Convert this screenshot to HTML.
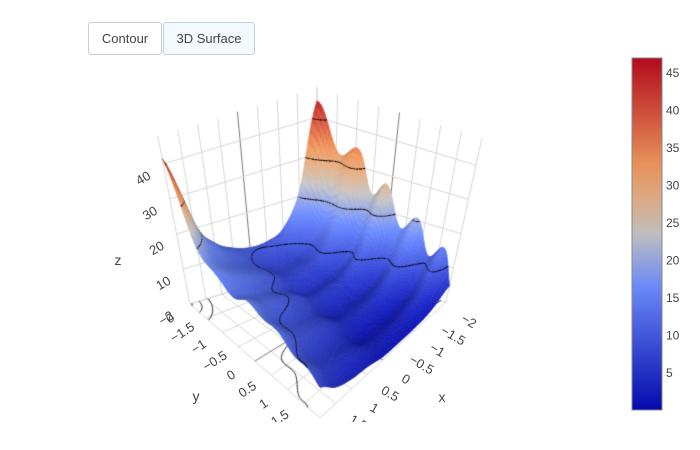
<!DOCTYPE html>
<html><head><meta charset="utf-8">
<style>
html,body{margin:0;padding:0;background:#fff;}
#root{position:relative;width:700px;height:450px;overflow:hidden;font-family:"Liberation Sans",sans-serif;}
#scene{position:absolute;left:0;top:0;width:700px;height:422px;overflow:hidden;}
#cv{position:absolute;left:0;top:0;}
#ov{position:absolute;left:0;top:0;}
.btn{position:absolute;top:22px;height:31px;border:1px solid #c4cfdc;border-radius:3px;font-size:13px;color:#444;line-height:31px;text-align:center;box-sizing:content-box;}
</style></head><body>
<div id="root">
  <div class="btn" style="left:88px;width:72px;background:#fff;">Contour</div>
  <div class="btn" style="left:163px;width:90px;background:#f4f9fe;">3D Surface</div>
  <div id="scene">
    <canvas id="cv" width="700" height="422"></canvas>
    <svg id="ov" width="700" height="422"></svg>
  </div>
  <svg width="700" height="450" style="position:absolute;left:0;top:0;pointer-events:none">
    <defs><linearGradient id="cg" x1="0" y1="1" x2="0" y2="0">
      <stop offset="0" stop-color="rgb(5,10,172)"/><stop offset="0.35" stop-color="rgb(106,137,247)"/>
      <stop offset="0.5" stop-color="rgb(190,190,190)"/><stop offset="0.6" stop-color="rgb(220,170,132)"/>
      <stop offset="0.7" stop-color="rgb(230,145,90)"/><stop offset="1" stop-color="rgb(178,10,28)"/>
    </linearGradient></defs>
    <rect x="632" y="58" width="30" height="352" fill="url(#cg)" stroke="#888" stroke-width="1"/>
    <g id="cbt" font-size="12" fill="#444" font-family="Liberation Sans, sans-serif"></g>
  </svg>
</div>
<script>
// ---- data ----
const xs=[-2,-1.5,-1,-0.5,0,0.5,1,1.5,2];
const ys=[-2,-1.5,-1,-0.5,0,0.5,1,1.5,2];
const zRowYm20=[41,19.5,11.5,9.6,9.5,11,14,21,41];
const zRowYm15=[36,17.2,10.2,8.6,8.5,11,13,16,22];
const zRowYm10=[32,14.9,8.6,7.1,7,10,12,14,16];
const zRowYm05=[27,12.6,7.3,6.1,6,9,11,12.5,14];
const zRowY00=[23,10.7,6.1,5.1,5,8,10,11.5,15];
const zRowY05=[19,8.7,4.9,4.1,4,7,8.5,10,14];
const zRowY10=[16,7.1,3.8,3.05,3,5.5,7,8.5,12];
const zRowY15=[13,5.5,2.7,2.04,2,4,5,6.5,10];
const zRowY20=[7,3.2,1.8,1.5,1.5,2.5,3,4.5,8];
const zGrid=[zRowYm20,zRowYm15,zRowYm10,zRowYm05,zRowY00,zRowY05,zRowY10,zRowY15,zRowY20];
const rippleCrests=[-1.95,-0.9,-0.12,0.8,1.68];
const rippleAmp=[3.5,2,1.2,0.9,0.8,0.6,0.5,0.5,0.6];
const contourLevels=[10,20,30,40];
const xTicks=[-2,-1.5,-1,-0.5,0,0.5,1,1.5,2];
const yTicks=[-2,-1.5,-1,-0.5,0,0.5,1,1.5,2];
const zTicks=[0,10,20,30,40];
const cbTicks=[5,10,15,20,25,30,35,40,45];
const cmin=0, cmax=47, zTop=48;

// ---- projection ----
const PB=[317,265],UB=[0,-3.7],PL=[190,304],UL=[-0.67,-3.5],PR=[446,302],UR=[0.75,-3.42],PF=[320,418],UF=[0,-4.0];
function proj(x,y,z){
  const u=(x+2)/4,v=(y+2)/4;
  const a=(1-u)*(1-v),b=u*(1-v),c=(1-u)*v,d=u*v;
  const px=a*PB[0]+b*PL[0]+c*PR[0]+d*PF[0];
  const py=a*PB[1]+b*PL[1]+c*PR[1]+d*PF[1];
  const ux=a*UB[0]+b*UL[0]+c*UR[0]+d*UF[0];
  const uy=a*UB[1]+b*UL[1]+c*UR[1]+d*UF[1];
  return [px+z*ux,py+z*uy];
}
function cr(p0,p1,p2,p3,t){return 0.5*((2*p1)+(-p0+p2)*t+(2*p0-5*p1+4*p2-p3)*t*t+(-p0+3*p1-3*p2+p3)*t*t*t);}
function interpArr(arr,f){
  const n=arr.length;let i=Math.floor(f);if(i>n-2)i=n-2;if(i<0)i=0;const t=f-i;
  const g=k=>arr[Math.max(0,Math.min(n-1,k))];
  return cr(g(i-1),g(i),g(i+1),g(i+2),t);
}
function lin(arr,f){const n=arr.length;let i=Math.floor(f);if(i>n-2)i=n-2;if(i<0)i=0;const t=f-i;return arr[i]*(1-t)+arr[i+1]*t;}
function ripple(y){
  const c=rippleCrests,n=c.length;let u;
  if(y<c[0])u=(y-c[0])/(c[1]-c[0]);
  else if(y>=c[n-1])u=(y-c[n-1])/(c[n-1]-c[n-2]);
  else{for(let i=0;i<n-1;i++){if(y>=c[i]&&y<c[i+1]){u=(y-c[i])/(c[i+1]-c[i]);break;}}}
  return Math.cos(2*Math.PI*u);
}
function zAt(x,y){
  const fx=(x-xs[0])/(xs[1]-xs[0]),fy=(y-ys[0])/(ys[1]-ys[0]);
  const n=zGrid.length;let j=Math.floor(fy);if(j>n-2)j=n-2;if(j<0)j=0;const t=fy-j;
  const row=k=>interpArr(zGrid[Math.max(0,Math.min(n-1,k))],fx);
  const base=cr(row(j-1),row(j),row(j+1),row(j+2),t);
  return Math.max(0,base+lin(rippleAmp,fx)*ripple(y));
}
const stops=[[0,[5,10,172]],[0.35,[106,137,247]],[0.5,[190,190,190]],[0.6,[220,170,132]],[0.7,[230,145,90]],[1,[178,10,28]]];
function cmap(z){
  let t=(z-cmin)/(cmax-cmin);t=Math.max(0,Math.min(1,t));
  for(let i=0;i<stops.length-1;i++){const a=stops[i],b=stops[i+1];if(t<=b[0]){const f=(t-a[0])/(b[0]-a[0]);return [0,1,2].map(k=>a[1][k]+(b[1][k]-a[1][k])*f);}}
  return stops[stops.length-1][1];
}

// ---- draw ----
const cv=document.getElementById('cv'),ctx=cv.getContext('2d');
function line3(a,b,col,w){const p=proj(...a),q=proj(...b);ctx.strokeStyle=col;ctx.lineWidth=w;ctx.beginPath();ctx.moveTo(p[0],p[1]);ctx.lineTo(q[0],q[1]);ctx.stroke();}
const gridCol='rgb(214,214,214)',zeroCol='rgb(120,120,120)';
xTicks.forEach(x=>line3([x,-2,0],[x,2,0],x===0?zeroCol:gridCol,1));
yTicks.forEach(y=>line3([-2,y,0],[2,y,0],y===0?zeroCol:gridCol,1));
xTicks.forEach(x=>line3([x,-2,0],[x,-2,zTop],x===0?zeroCol:gridCol,1));
zTicks.forEach(z=>line3([-2,-2,z],[2,-2,z],gridCol,1));
yTicks.forEach(y=>line3([-2,y,0],[-2,y,zTop],y===0?zeroCol:gridCol,1));
zTicks.forEach(z=>line3([-2,-2,z],[-2,2,z],gridCol,1));

const N=80;
const V=[];
for(let i=0;i<=N;i++){V[i]=[];for(let j=0;j<=N;j++){const x=-2+4*i/N,y=-2+4*j/N;V[i][j]=[x,y,zAt(x,y)];}}
function cellContours(i,j,floor){
  const c=[V[i][j],V[i+1][j],V[i+1][j+1],V[i][j+1]];
  contourLevels.forEach(L=>{
    const pts=[];
    for(let k=0;k<4;k++){const a=c[k],b=c[(k+1)%4];
      if((a[2]-L)*(b[2]-L)<0){const t=(L-a[2])/(b[2]-a[2]);pts.push(proj(a[0]+(b[0]-a[0])*t,a[1]+(b[1]-a[1])*t,floor?0:L));}}
    if(pts.length>=2){ctx.beginPath();ctx.moveTo(pts[0][0],pts[0][1]);ctx.lineTo(pts[1][0],pts[1][1]);
      if(pts.length===4){ctx.moveTo(pts[2][0],pts[2][1]);ctx.lineTo(pts[3][0],pts[3][1]);}ctx.stroke();}
  });
}
ctx.strokeStyle='#111';ctx.lineWidth=0.9;
for(let i=0;i<N;i++)for(let j=0;j<N;j++)cellContours(i,j,true);
const L=[Math.SQRT1_2,Math.SQRT1_2,0];
for(let d=0;d<=2*N-2;d++){
  const cells=[];
  for(let i=Math.max(0,d-N+1);i<=Math.min(N-1,d);i++)cells.push([i,d-i]);
  cells.forEach(([i,j])=>{
    const a=V[i][j],b=V[i+1][j],c=V[i+1][j+1],e=V[i][j+1];
    const zm=(a[2]+b[2]+c[2]+e[2])/4;
    const dzdx=((b[2]+c[2])-(a[2]+e[2]))/2/(4/N),dzdy=((e[2]+c[2])-(a[2]+b[2]))/2/(4/N);
    const gx=dzdx*4/zTop,gy=dzdy*4/zTop,len=Math.sqrt(gx*gx+gy*gy+1);
    const dot=(-gx*L[0]-gy*L[1])/len;
    const f=Math.max(0.75,Math.min(1.05,0.9+0.25*dot));
    const col=cmap(zm).map(v=>Math.min(255,Math.round(v*f)));
    const cs='rgb('+col.join(',')+')';
    const p=[a,b,c,e].map(q=>proj(q[0],q[1],q[2]));
    ctx.fillStyle=cs;ctx.strokeStyle=cs;ctx.lineWidth=0.6;
    ctx.beginPath();ctx.moveTo(p[0][0],p[0][1]);for(let k=1;k<4;k++)ctx.lineTo(p[k][0],p[k][1]);ctx.closePath();ctx.fill();ctx.stroke();
  });
  ctx.strokeStyle='#000';ctx.lineWidth=1.1;
  cells.forEach(([i,j])=>cellContours(i,j,false));
}

// ---- labels ----
const NS='http://www.w3.org/2000/svg',ov=document.getElementById('ov');
function fmt(v){return (v<0?'\u2212':'')+Math.abs(v);}
function addText(x,y,s,rot,size,name){
  const t=document.createElementNS(NS,'text');
  t.setAttribute('x',x);t.setAttribute('y',y);t.setAttribute('font-size',size);t.setAttribute('fill','#444');
  t.setAttribute('font-family','Liberation Sans, sans-serif');t.setAttribute('text-anchor','middle');t.setAttribute('dominant-baseline','central');
  if(rot)t.setAttribute('transform','rotate('+rot+' '+x+' '+y+')');
  t.textContent=s;
  
  
  ov.appendChild(t);
}
xTicks.forEach(v=>{const p=proj(v,2,0);addText(p[0]+23,p[1]+19,fmt(v),30,13,'x-tick-label');});
yTicks.forEach(v=>{const p=proj(2,v,0);addText(p[0]-24,p[1]+14,fmt(v),-33,13,'y-tick-label');});
zTicks.forEach(v=>{const p=proj(2,-2,v);addText(p[0]-20,p[1]+14,fmt(v),-30,13,'z-tick-label');});
addText(118,260,'z',0,14,'z-axis-title');
addText(196,396,'y',0,14,'y-axis-title');
addText(442,397,'x',0,14,'x-axis-title');
const cbt=document.getElementById('cbt');
cbTicks.forEach(v=>{
  const t=document.createElementNS(NS,'text');
  t.setAttribute('x',666);t.setAttribute('y',73+(45-v)*7.5+4);t.textContent=String(v);
  
  
  cbt.appendChild(t);
});
</script>
</body></html>
